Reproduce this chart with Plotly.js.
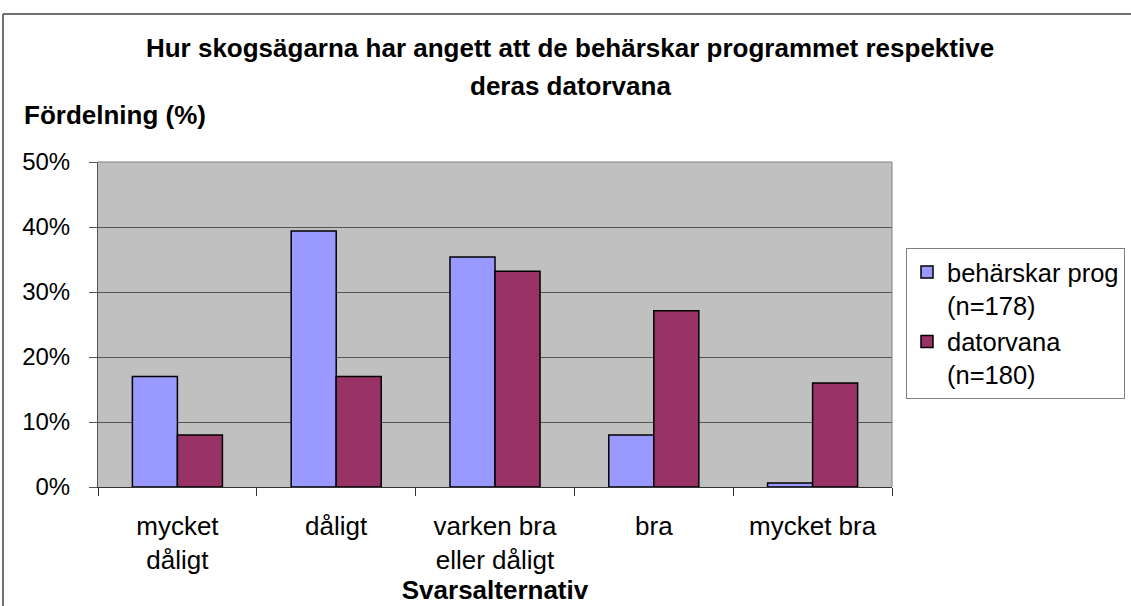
<!DOCTYPE html>
<html>
<head>
<meta charset="utf-8">
<script src="https://cdn.plot.ly/plotly-3.0.1.min.js"></script>
<style>
  html, body { margin: 0; padding: 0; background: #ffffff; overflow: hidden; }
  #chart { width: 1131px; height: 606px; }
</style>
</head>
<body>
<div id="chart"></div>
<script>
// ---- data ----
var categories = ['mycket dåligt', 'dåligt', 'varken bra eller dåligt', 'bra', 'mycket bra'];
var tickLabels = ['mycket<br>dåligt', 'dåligt', 'varken bra<br>eller dåligt', 'bra', 'mycket bra'];
var beharskarProg = [17, 39.4, 35.4, 8, 0.6];
var datorvana = [8, 17, 33.2, 27.1, 16];
var seriesNames = ['behärskar prog<br>(n=178)', 'datorvana<br>(n=180)'];
var yTickValues = [0, 10, 20, 30, 40, 50];
var yTickLabels = ['0%', '10%', '20%', '30%', '40%', '50%'];
var titleLine1 = 'Hur skogsägarna har angett att de behärskar programmet respektive';
var titleLine2 = 'deras datorvana';
var yTitleText = 'Fördelning (%)';
var xTitleText = 'Svarsalternativ';

var FONT = 'Liberation Sans, Arial, sans-serif';

var traces = [
  {
    type: 'bar', x: categories, y: beharskarProg, name: seriesNames[0], legendgroup: 'a',
    marker: { color: '#9999FF', line: { color: '#000000', width: 1.5 } },
    hoverinfo: 'x+y'
  },
  {
    type: 'bar', x: categories, y: datorvana, name: seriesNames[1], legendgroup: 'b',
    marker: { color: '#993366', line: { color: '#000000', width: 1.5 } },
    hoverinfo: 'x+y'
  }
];

var layout = {
  width: 1131, height: 606,
  margin: { l: 98, r: 239, t: 162, b: 119, pad: 0, autoexpand: false },
  paper_bgcolor: '#ffffff',
  plot_bgcolor: '#C0C0C0',
  font: { family: FONT, size: 24, color: '#000000' },
  barmode: 'group',
  bargap: 0.433,
  bargroupgap: 0,
  title: {
    text: titleLine1,
    font: { family: FONT, size: 26, color: '#000000', weight: 'bold' },
    xref: 'container', x: 0.504, xanchor: 'center',
    yref: 'container', y: 1 - 48 / 606, yanchor: 'middle',
    automargin: false
  },
  xaxis: {
    type: 'category',
    tickvals: categories, ticktext: tickLabels,
    tickson: 'boundaries',
    ticks: 'outside', ticklen: 8, tickcolor: '#333333', tickwidth: 1,
    showline: true, linecolor: '#333333', linewidth: 1,
    showgrid: false, zeroline: false,
    tickfont: { family: FONT, size: 26, color: '#000000' },
    ticklabelstandoff: 16,
    title: { text: xTitleText, font: { family: FONT, size: 26, color: '#000000', weight: 'bold' }, standoff: 6 },
    automargin: false,
    fixedrange: true
  },
  yaxis: {
    range: [0, 50],
    tickvals: yTickValues, ticktext: yTickLabels,
    ticks: 'outside', ticklen: 8, tickcolor: '#555555', tickwidth: 1,
    showline: true, linecolor: '#555555', linewidth: 1,
    showgrid: true, gridcolor: '#555555', gridwidth: 1,
    zeroline: false,
    tickfont: { family: FONT, size: 24, color: '#000000' },
    ticklabelstandoff: 14,
    automargin: false,
    fixedrange: true
  },
  legend: {
    x: (906 - 98) / 794, xanchor: 'left',
    y: (487 - 248) / 325, yanchor: 'top',
    bgcolor: '#ffffff', bordercolor: '#808080', borderwidth: 1,
    font: { family: FONT, size: 25.5, color: '#000000' },
    valign: 'top',
    traceorder: 'normal',
    tracegroupgap: 11
  },
  annotations: [
    {
      text: titleLine2, showarrow: false,
      xref: 'paper', yref: 'paper',
      x: (570 - 98) / 794, xanchor: 'center',
      y: (487 - 86) / 325, yanchor: 'middle',
      font: { family: FONT, size: 26, color: '#000000', weight: 'bold' }
    },
    {
      text: yTitleText, showarrow: false,
      xref: 'paper', yref: 'paper',
      x: (22 - 98) / 794, xanchor: 'left',
      y: (487 - 115) / 325, yanchor: 'middle',
      font: { family: FONT, size: 26, color: '#000000', weight: 'bold' }
    }
  ],
  shapes: [
    // plot-area frame (top and right edges)
    { type: 'line', xref: 'paper', yref: 'paper', x0: 0, x1: 1, y0: 1, y1: 1, line: { color: '#808080', width: 1 } },
    { type: 'line', xref: 'paper', yref: 'paper', x0: 1, x1: 1, y0: 0, y1: 1, line: { color: '#808080', width: 1 } },
    // chart-area frame (top and left edges)
    { type: 'line', xref: 'paper', yref: 'paper', x0: (3 - 98) / 794, x1: 1.4, y0: (487 - 14) / 325, y1: (487 - 14) / 325, line: { color: '#404040', width: 1.5 } },
    { type: 'line', xref: 'paper', yref: 'paper', x0: (3 - 98) / 794, x1: (3 - 98) / 794, y0: -0.5, y1: (487 - 14) / 325, line: { color: '#404040', width: 1.5 } }
  ],
  showlegend: true
};

Plotly.newPlot('chart', traces, layout, { displayModeBar: false, staticPlot: true });
</script>
</body>
</html>
